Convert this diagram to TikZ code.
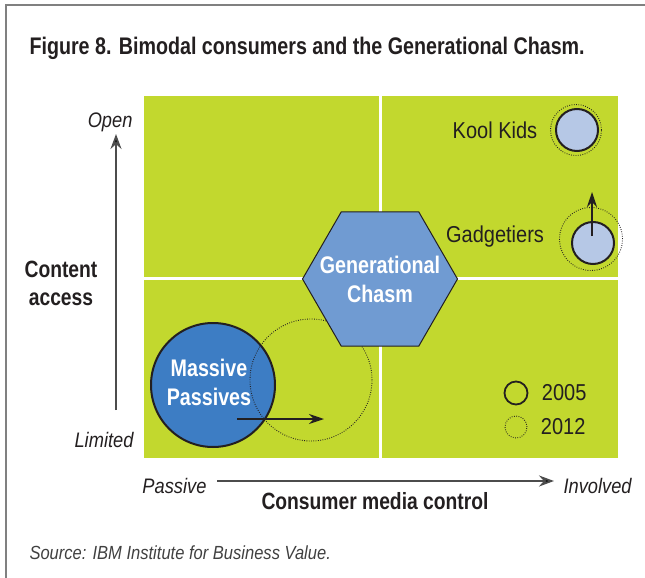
\documentclass[tikz,border=0pt]{standalone}
\usepackage{fontspec}
\setmainfont{Liberation Sans}[FakeStretch=0.87]
\newfontfamily\heavyface{Liberation Sans Bold}[FakeStretch=0.82]
\usetikzlibrary{arrows.meta,shapes.geometric}
\definecolor{chartgreen}{RGB}{194,216,46}
\definecolor{massblue}{RGB}{61,125,196}
\definecolor{chasmblue}{RGB}{112,155,210}
\definecolor{paleblue}{RGB}{182,200,230}
\definecolor{ink}{RGB}{35,31,32}

\begin{document}
\begin{tikzpicture}[x=1pt,y=-1pt,text=ink,
		ring/.style={circle,draw=ink,line width=2pt,inner sep=0pt},
		dotring/.style={circle,draw=ink,line width=0.9pt,dash pattern=on 0.8pt off 1.5pt,inner sep=0pt},
		tip/.style={draw=ink,line width=1.6pt,-{Stealth[length=15pt,width=10pt]}},
		axis/.style={draw=black!70,line width=1.8pt,-{Stealth[length=15pt,width=11pt,fill=black]}},
		word/.style={font=\fontsize{23}{26}\selectfont},
		slant/.style={font=\fontsize{21}{24}\selectfont\itshape},
		heavy/.style={font=\fontsize{23.5}{28}\selectfont\heavyface,align=center}]
			\useasboundingbox (0,0) rectangle (645,578);
			\draw[black!50,line width=1.5pt] (645,5) -- (6,5) -- (6,578);
			\node[anchor=west,font=\fontsize{24}{28}\selectfont\heavyface] (title) at (26,48) {Figure 8. Bimodal consumers and the Generational Chasm.};
			% quadrants
			\fill[chartgreen] (144,96) rectangle (618,458);
			\draw[white,line width=3pt] (380,96) -- (380,458) (144,278) -- (618,278);
			% massive passives
			\node[ring,fill=massblue,minimum size=124pt] (mass) at (213,385) {};
			\node[text=white,font=\fontsize{24}{29}\selectfont\heavyface,align=center] (masstext) at (209,382) {Massive\\Passives};
			\node[dotring,minimum size=122pt] (mass12) at (311,380) {};
			\coordinate (mfrom) at (237,419);
			\coordinate (mto) at (324,419);
			\draw[tip] (mfrom) -- (mto);
			\node[regular polygon,regular polygon sides=6,minimum size=155pt,inner sep=0pt,fill=chasmblue,draw=ink,line width=1pt] (chasm) at (380,279) {};
			\node[text=white,font=\fontsize{24}{29}\selectfont\heavyface,align=center] (chasmtext) at (chasm) {Generational\\Chasm};
			% kool kids, gadgetiers
			\node[ring,fill=paleblue,minimum size=42pt] (kool) at (577,130) {};
			\node[dotring,minimum size=51pt] (kool12) at (576,130) {};
			\node[word] (koollabel) at (495,130) {Kool Kids};
			\node[ring,fill=paleblue,minimum size=42pt] (gadget) at (593,243) {};
			\node[dotring,minimum size=63pt] (gadget12) at (591,239) {};
			\node[word] (gadgetlabel) at (495,237) {Gadgetiers};
			\coordinate (gfrom) at (592,236);
			\coordinate (gto) at (592,192);
			\draw[tip] (gfrom) -- (gto);
			% legend
			\node[ring,line width=1.8pt,minimum size=23pt] (y2005) at (516,393) {};
			\node[dotring,minimum size=22pt] (y2012) at (516,427) {};
			\foreach \n/\y in {y2005/2005,y2012/2012}
				\node[word,anchor=west] at ([xshift=10pt]\n.east) {\y};
			% axes
			\node[slant,anchor=east] (open) at (136,122) {Open};
			\node[slant,anchor=east] (limited) at (137,440) {Limited};
			\node[heavy] (content) at (61,283) {Content\\access};
			\coordinate (ybot) at (116,410);
			\coordinate (ytop) at (116,134);
			\draw[axis] (ybot) -- (ytop);
			\node[slant,anchor=east] (passive) at (210,486) {Passive};
			\node[slant,anchor=west] (involved) at (560,486) {Involved};
			\node[heavy] (media) at (375,501) {Consumer media control};
			\coordinate (xleft) at (217,481);
			\coordinate (xright) at (554,481);
			\draw[axis] (xleft) -- (xright);
			\node[anchor=west,font=\fontsize{19}{22}\selectfont\itshape,text=black!75] (source) at (26,553) {Source: IBM Institute for Business Value.};
			\end{tikzpicture}
\end{document}
